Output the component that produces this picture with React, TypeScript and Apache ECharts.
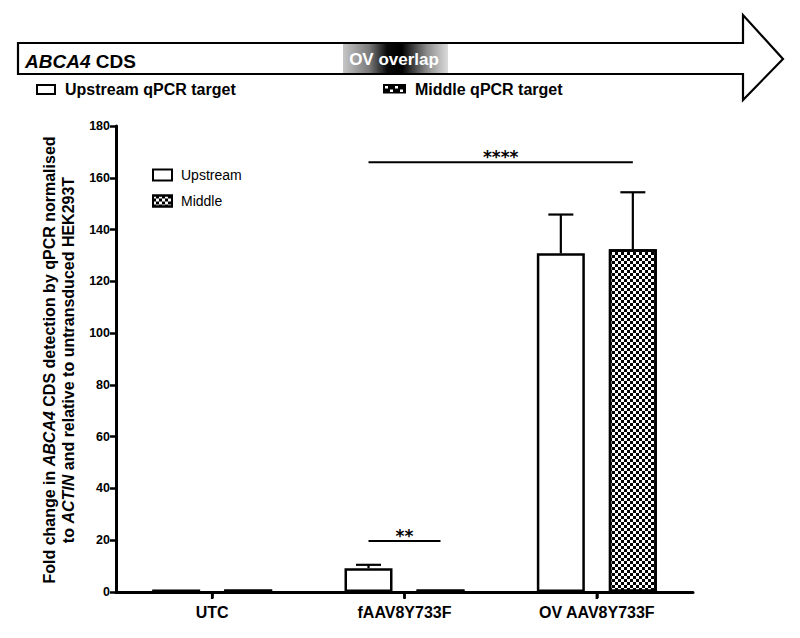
import React, { useEffect, useRef } from "react";
import * as echarts from "echarts";

// ---- data ----
const categories = ["UTC", "fAAV8Y733F", "OV AAV8Y733F"];
const seriesNames = ["Upstream", "Middle"];
const upstreamMean = [1.0, 9.2, 130.8];
const upstreamErr = [0, 1.3, 15.0];
const middleMean = [1.0, 1.0, 132.4];
const middleErr = [0, 0, 22.0];
const yMin = 0;
const yMax = 180;
const yInterval = 20;
// significance brackets: from (category, side) to (category, side) at height y
const sigFromCat = [1, 1];
const sigFromSide = [-1, -1];
const sigToCat = [2, 1];
const sigToSide = [1, 1];
const sigY = [166, 19.7];
const sigText = ["****", "**"];

const FONT = "'Liberation Sans', Arial, Helvetica, sans-serif";
const BAR_W = 48;
const HALF = 36; // half distance between the two bar centres in a group

const checkerDecal = {
  symbol: "rect",
  symbolSize: 1,
  color: "#000",
  dashArrayX: [
    [3, 3],
    [0, 3, 3, 0],
  ],
  dashArrayY: [3, 0],
  rotation: 0,
};

function errorSeries(name: string, means: number[], errs: number[], side: number) {
  return {
    type: "custom",
    name,
    z: 5,
    silent: true,
    data: means.map((m, i) => [i, m, errs[i]]),
    renderItem: (params: any, api: any) => {
      const err = api.value(2);
      if (!err) return { type: "group", children: [] };
      const base = api.coord([api.value(0), api.value(1)]);
      const top = api.coord([api.value(0), api.value(1) + err]);
      const x = base[0] + side * HALF;
      const st = { stroke: "#000", lineWidth: 2.2 };
      return {
        type: "group",
        children: [
          { type: "line", shape: { x1: x, y1: base[1], x2: x, y2: top[1] }, style: st },
          { type: "line", shape: { x1: x - 12.5, y1: top[1], x2: x + 12.5, y2: top[1] }, style: st },
        ],
      };
    },
  };
}

export default function App() {
  const ref = useRef<HTMLDivElement>(null);
  useEffect(() => {
    if (!ref.current) return;
    const chart = echarts.init(ref.current, undefined, { renderer: "svg" });

    const overlapGrad = new echarts.graphic.LinearGradient(0, 0, 1, 0, [
      { offset: 0, color: "#c6c6c6" },
      { offset: 0.25, color: "#7a7a7a" },
      { offset: 0.42, color: "#0a0a0a" },
      { offset: 0.56, color: "#000000" },
      { offset: 0.8, color: "#8c8c8c" },
      { offset: 1, color: "#dcdcdc" },
    ]);

    const checkerSquares: any[] = [];
    for (let r = 0; r < 2; r++) {
      for (let c = 0; c < 4; c++) {
        if ((r + c) % 2 === 0) {
          checkerSquares.push({
            type: "rect",
            shape: { x: 385 + c * 5, y: 86 + r * 3.5, width: 3, height: 2.5 },
            style: { fill: "#fff" },
          });
        }
      }
    }

    const option: any = {
      animation: false,
      backgroundColor: "#fff",
      grid: { left: 116, right: 107, top: 126, bottom: 46, containLabel: false },
      legend: {
        data: seriesNames,
        orient: "vertical",
        left: 147,
        top: 163,
        itemWidth: 19,
        itemHeight: 11,
        itemGap: 12,
        icon: "rect",
        selectedMode: false,
        textStyle: { fontFamily: FONT, fontSize: 14, color: "#000", padding: [0, 0, 0, 4] },
      },
      xAxis: {
        type: "category",
        data: categories,
        axisLine: { show: true, lineStyle: { color: "#000", width: 3, opacity: 1 } },
        axisTick: { show: true, alignWithLabel: true, length: 6, lineStyle: { color: "#000", width: 2.5 } },
        axisLabel: { color: "#000", fontFamily: FONT, fontWeight: "bold", fontSize: 16, margin: 12 },
        splitLine: { show: false },
      },
      yAxis: {
        type: "value",
        min: yMin,
        max: yMax,
        interval: yInterval,
        axisLine: { show: true, lineStyle: { color: "#000", width: 3, opacity: 1 } },
        axisTick: { show: true, length: 6, lineStyle: { color: "#000", width: 2.5 } },
        axisLabel: { color: "#000", fontFamily: FONT, fontWeight: "bold", fontSize: 12.5, margin: 6 },
        splitLine: { show: false },
      },
      graphic: [
        {
          type: "polygon",
          shape: {
            points: [
              [18, 43],
              [743, 43],
              [743, 15],
              [783, 59],
              [743, 100],
              [743, 74],
              [18, 74],
            ],
          },
          style: { fill: "#fff", stroke: "#000", lineWidth: 2.2 },
        },
        {
          type: "rect",
          shape: { x: 343, y: 44, width: 105, height: 29 },
          style: { fill: overlapGrad },
        },
        {
          type: "text",
          x: 394,
          y: 59,
          style: {
            text: "OV overlap",
            fill: "#fff",
            font: `bold 17px ${FONT}`,
            align: "center",
            verticalAlign: "middle",
          },
        },
        {
          type: "text",
          x: 25,
          y: 61,
          style: {
            text: "{i|ABCA4}{b| CDS}",
            verticalAlign: "middle",
            rich: {
              i: { fontFamily: FONT, fontSize: 19, fontWeight: "bold", fontStyle: "italic", fill: "#000" },
              b: { fontFamily: FONT, fontSize: 19, fontWeight: "bold", fill: "#000" },
            },
          },
        },
        {
          type: "rect",
          shape: { x: 37, y: 85, width: 18, height: 9 },
          style: { fill: "#fff", stroke: "#000", lineWidth: 2 },
        },
        {
          type: "text",
          x: 65,
          y: 89,
          style: {
            text: "Upstream qPCR target",
            fill: "#000",
            font: `bold 16px ${FONT}`,
            verticalAlign: "middle",
          },
        },
        {
          type: "rect",
          shape: { x: 383, y: 84, width: 23, height: 9.5 },
          style: { fill: "#000" },
        },
        ...checkerSquares,
        {
          type: "text",
          x: 415,
          y: 89,
          style: {
            text: "Middle qPCR target",
            fill: "#000",
            font: `bold 16px ${FONT}`,
            verticalAlign: "middle",
          },
        },
        {
          type: "text",
          x: 59,
          y: 360,
          rotation: Math.PI / 2,
          style: {
            text:
              "{b|Fold change in }{i|ABCA4}{b| CDS detection by qPCR normalised}\n{b|to }{i|ACTIN}{b| and relative to untransduced HEK293T}",
            align: "center",
            verticalAlign: "middle",
            rich: {
              b: { fontFamily: FONT, fontSize: 16, fontWeight: "bold", fill: "#000", lineHeight: 19 },
              i: {
                fontFamily: FONT,
                fontSize: 16,
                fontWeight: "bold",
                fontStyle: "italic",
                fill: "#000",
                lineHeight: 19,
              },
            },
          },
        },
      ],
      series: [
        {
          type: "bar",
          name: seriesNames[0],
          data: upstreamMean,
          barWidth: BAR_W,
          barGap: "50%",
          itemStyle: { color: "#fff", borderColor: "#000", borderWidth: 2.5 },
        },
        {
          type: "bar",
          name: seriesNames[1],
          data: middleMean,
          barWidth: BAR_W,
          barGap: "50%",
          itemStyle: { color: "#fff", borderColor: "#000", borderWidth: 2.5, decal: checkerDecal },
        },
        errorSeries("err-up", upstreamMean, upstreamErr, -1),
        errorSeries("err-mid", middleMean, middleErr, 1),
        {
          // category ticks on the x axis (drawn explicitly so they always show)
          type: "custom",
          name: "xticks",
          silent: true,
          z: 7,
          clip: false,
          data: categories.map((c, i) => [i, 0]),
          renderItem: (params: any, api: any) => {
            const p = api.coord([api.value(0), 0]);
            return {
              type: "line",
              shape: { x1: p[0], y1: p[1], x2: p[0], y2: p[1] + 7 },
              style: { stroke: "#000", lineWidth: 2.5 },
            };
          },
        },
        {
          type: "custom",
          name: "significance",
          z: 6,
          silent: true,
          data: sigY.map((y, i) => [sigFromCat[i], y, sigFromSide[i], sigToCat[i], sigToSide[i]]),
          renderItem: (params: any, api: any) => {
            const y = api.value(1);
            const p1 = api.coord([api.value(0), y]);
            const p2 = api.coord([api.value(3), y]);
            const x1 = p1[0] + api.value(2) * HALF;
            const x2 = p2[0] + api.value(4) * HALF;
            return {
              type: "group",
              children: [
                {
                  type: "line",
                  shape: { x1, y1: p1[1], x2, y2: p1[1] },
                  style: { stroke: "#000", lineWidth: 2.2 },
                },
                {
                  type: "text",
                  style: {
                    text: sigText[params.dataIndex],
                    x: (x1 + x2) / 2,
                    y: p1[1] - 5,
                    align: "center",
                    verticalAlign: "middle",
                    font: "bold 17px 'DejaVu Sans', sans-serif",
                    fill: "#000",
                  },
                },
              ],
            };
          },
        },
      ],
    };
    chart.setOption(option);
    return () => chart.dispose();
  }, []);
  return (
    <div
      ref={ref}
      style={{ position: "fixed", left: 0, top: 0, width: 800, height: 638, background: "#fff" }}
    />
  );
}
